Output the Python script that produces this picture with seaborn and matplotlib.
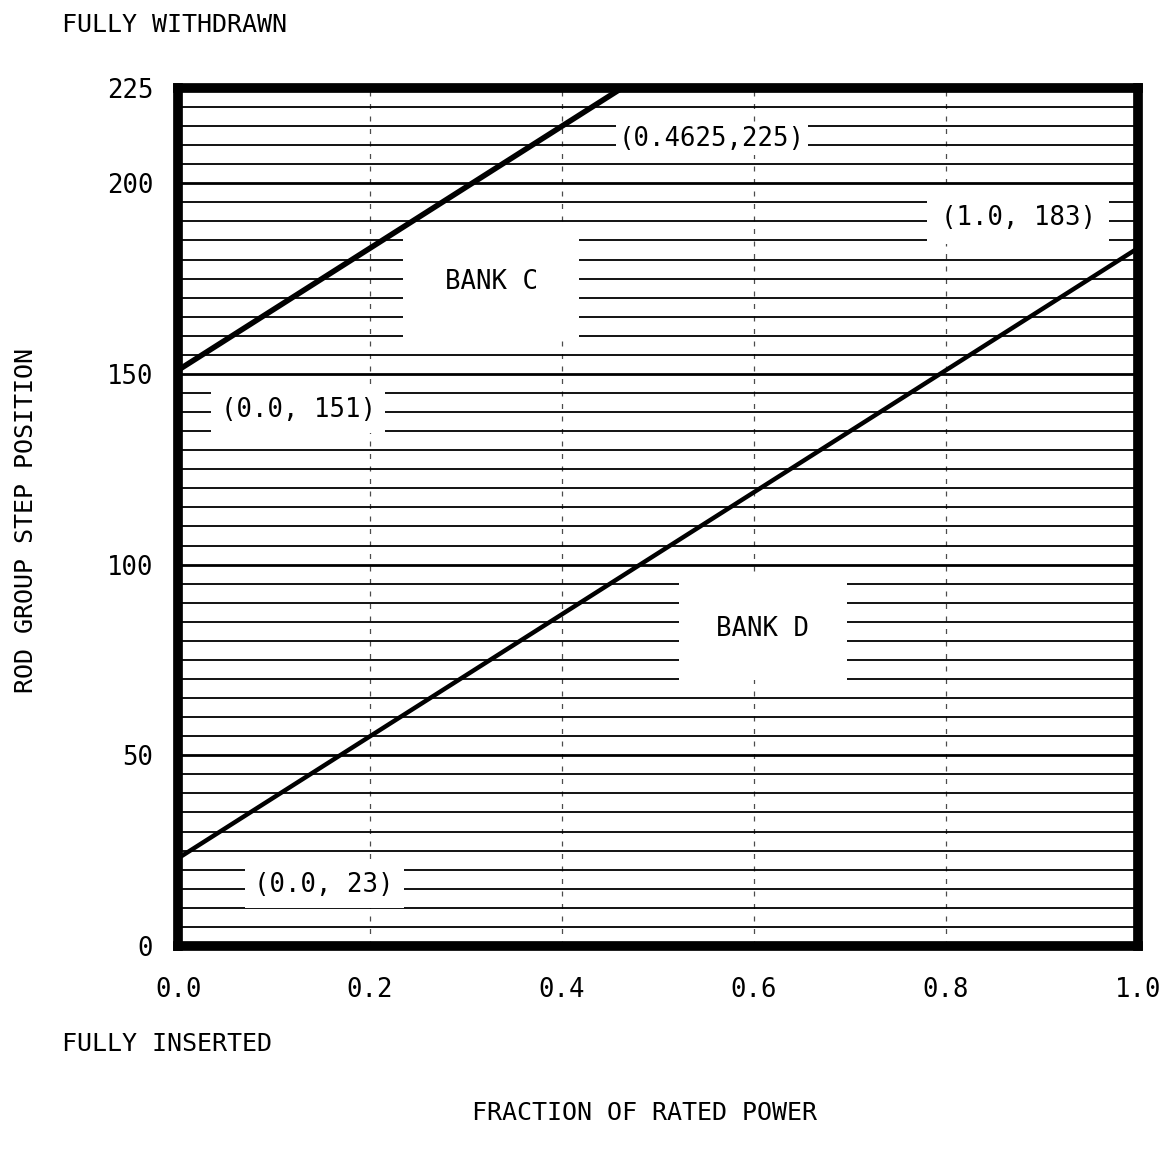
from matplotlib import pyplot as plt
from matplotlib.ticker import MultipleLocator
import seaborn as sns
import pandas as pd

# Rod insertion limits
bank_c_power = [0.0, 0.4625]
bank_c_steps = [151, 225]
bank_d_power = [0.0, 1.0]
bank_d_steps = [23, 183]

x_ticks = [0.0, 0.2, 0.4, 0.6, 0.8, 1.0]
x_tick_labels = ["0.0", "0.2", "0.4", "0.6", "0.8", "1.0"]
y_ticks = [0, 50, 100, 150, 200, 225]

df = pd.concat([
    pd.DataFrame({"Power": bank_c_power, "Steps": bank_c_steps, "Bank": "BANK C"}),
    pd.DataFrame({"Power": bank_d_power, "Steps": bank_d_steps, "Bank": "BANK D"}),
])

sns.set_style("white")
plt.rcParams["font.family"] = ["DejaVu Sans Mono", "DejaVu Sans"]
plt.rcParams["text.color"] = "black"
plt.rcParams["xtick.color"] = "black"
plt.rcParams["ytick.color"] = "black"

fig = plt.figure(figsize=(11.72, 11.57), dpi=100)
ax = fig.add_axes([0.152, 0.1824, 0.819, 0.7416])

sns.lineplot(data=df, x="Power", y="Steps", units="Bank", estimator=None,
             color="black", linewidth=3.2, ax=ax, zorder=5, solid_capstyle="butt")
# bank C curve is drawn a touch heavier in the original
ax.lines[0].set_linewidth(4.0)

ax.set_xlim(0, 1.0)
ax.set_ylim(0, 225)
ax.set_xticks(x_ticks)
ax.set_xticklabels(x_tick_labels)
ax.set_yticks(y_ticks)
ax.yaxis.set_minor_locator(MultipleLocator(5))

# Grid: fine horizontal rulings, faint dashed verticals
ax.grid(axis="y", which="minor", color="black", linewidth=1.3)
ax.grid(axis="y", which="major", color="black", linewidth=2.0)
ax.grid(axis="x", which="major", color="black", linewidth=0.9,
        linestyle=(0, (4, 6)), alpha=0.7)
ax.set_axisbelow(True)

for s in ax.spines.values():
    s.set_visible(True)
    s.set_color("black")
    s.set_linewidth(7)

ax.tick_params(axis="both", which="both", length=0, labelsize=18.5)
ax.tick_params(axis="y", pad=18)
ax.tick_params(axis="x", pad=22)
ax.set_xlabel("")
ax.set_ylabel("")

box = dict(facecolor="white", edgecolor="none")
ax.text(0.326, 174, "BANK C", fontsize=18.5, ha="center", va="center", zorder=4,
        bbox=dict(box, pad=30))
ax.text(0.609, 83, "BANK D", fontsize=18.5, ha="center", va="center", zorder=4,
        bbox=dict(box, pad=27))
ax.text(0.125, 140.5, "(0.0, 151)", fontsize=18.5, ha="center", va="center", zorder=4,
        bbox=dict(box, pad=7))
ax.text(0.152, 16, "(0.0, 23)", fontsize=18.5, ha="center", va="center", zorder=4,
        bbox=dict(box, pad=7))
ax.text(0.875, 191, "(1.0, 183)", fontsize=18.5, ha="center", va="center", zorder=4,
        bbox=dict(box, pad=10))
ax.text(0.556, 211.5, "(0.4625,225)", fontsize=18.5, ha="center", va="center", zorder=4,
        bbox=dict(box, pad=2))

fig.text(0.053, 0.978, "FULLY WITHDRAWN", fontsize=18, ha="left", va="center")
fig.text(0.053, 0.098, "FULLY INSERTED", fontsize=18, ha="left", va="center")
fig.text(0.55, 0.038, "FRACTION OF RATED POWER", fontsize=18, ha="center", va="center")
fig.text(0.022, 0.55, "ROD GROUP STEP POSITION", fontsize=18, ha="center",
         va="center", rotation=90)

plt.savefig("out.png", dpi=100)
